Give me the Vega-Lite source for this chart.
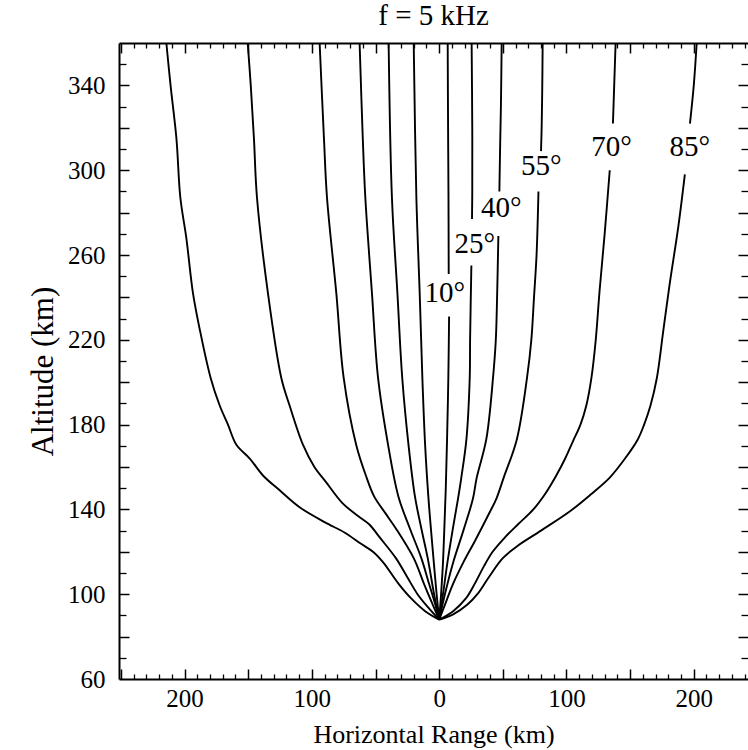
{
  "$schema": "https://vega.github.io/schema/vega-lite/v6.json",
  "width": 629,
  "height": 636,
  "autosize": {"type": "none"},
  "padding": {"left": 119, "top": 43, "right": 0, "bottom": 71},
  "background": "white",
  "title": {"text": "f = 5 kHz", "font": "Liberation Serif", "fontSize": 29, "fontWeight": "normal", "color": "black", "offset": 8, "anchor": "middle", "frame": "group"},
  "config": {
    "font": "Liberation Serif",
    "view": {"stroke": null},
    "axis": {"grid": false, "domainColor": "black", "tickColor": "black", "labelColor": "black", "titleColor": "black", "labelFont": "Liberation Serif", "titleFont": "Liberation Serif", "titleFontWeight": "normal"}
  },
  "datasets": {
    "curves": [
      {"s":"L6","km":-214.3,"alt":360},{"s":"L6","km":-211,"alt":340},{"s":"L6","km":-206.4,"alt":315},{"s":"L6","km":-203.3,"alt":287},{"s":"L6","km":-198.6,"alt":268},{"s":"L6","km":-193.4,"alt":242},{"s":"L6","km":-188.1,"alt":225},{"s":"L6","km":-179.5,"alt":202},{"s":"L6","km":-172.4,"alt":189},{"s":"L6","km":-165.9,"alt":180},{"s":"L6","km":-159.3,"alt":170.5},{"s":"L6","km":-148.8,"alt":164},{"s":"L6","km":-138.4,"alt":156},{"s":"L6","km":-125.3,"alt":149},{"s":"L6","km":-109.6,"alt":141},{"s":"L6","km":-90,"alt":134},{"s":"L6","km":-74,"alt":129},{"s":"L6","km":-62,"alt":124},{"s":"L6","km":-52,"alt":120},{"s":"L6","km":-44,"alt":115},{"s":"L6","km":-32,"alt":105},{"s":"L6","km":-22,"alt":98},{"s":"L6","km":-11,"alt":92},{"s":"L6","km":0,"alt":88},
      {"s":"L5","km":-150.4,"alt":360},{"s":"L5","km":-148,"alt":340},{"s":"L5","km":-145.5,"alt":315},{"s":"L5","km":-143.1,"alt":287},{"s":"L5","km":-134.5,"alt":242},{"s":"L5","km":-124,"alt":202},{"s":"L5","km":-117.5,"alt":189},{"s":"L5","km":-107,"alt":170.5},{"s":"L5","km":-98,"alt":160},{"s":"L5","km":-89,"alt":153},{"s":"L5","km":-76,"alt":143},{"s":"L5","km":-64,"alt":137},{"s":"L5","km":-55,"alt":133},{"s":"L5","km":-47,"alt":127},{"s":"L5","km":-34,"alt":117},{"s":"L5","km":-25,"alt":108},{"s":"L5","km":-17,"alt":100},{"s":"L5","km":-9,"alt":94},{"s":"L5","km":0,"alt":88},
      {"s":"L4","km":-93.9,"alt":360},{"s":"L4","km":-90.5,"alt":315},{"s":"L4","km":-88.1,"alt":287},{"s":"L4","km":-80.8,"alt":242},{"s":"L4","km":-75,"alt":202},{"s":"L4","km":-65,"alt":170},{"s":"L4","km":-57,"alt":155},{"s":"L4","km":-51,"alt":146},{"s":"L4","km":-42,"alt":138},{"s":"L4","km":-34,"alt":131},{"s":"L4","km":-20,"alt":117},{"s":"L4","km":-12,"alt":105},{"s":"L4","km":-5,"alt":95},{"s":"L4","km":0,"alt":88},
      {"s":"L3","km":-62.5,"alt":360},{"s":"L3","km":-60,"alt":315},{"s":"L3","km":-58,"alt":287},{"s":"L3","km":-52.8,"alt":242},{"s":"L3","km":-48,"alt":202},{"s":"L3","km":-40,"alt":170},{"s":"L3","km":-32,"alt":146},{"s":"L3","km":-23,"alt":131},{"s":"L3","km":-14,"alt":117},{"s":"L3","km":-8,"alt":105},{"s":"L3","km":-3,"alt":95},{"s":"L3","km":0,"alt":88},
      {"s":"L2","km":-39.7,"alt":360},{"s":"L2","km":-37.1,"alt":287},{"s":"L2","km":-32.8,"alt":242},{"s":"L2","km":-29,"alt":202},{"s":"L2","km":-24,"alt":170},{"s":"L2","km":-19,"alt":146},{"s":"L2","km":-14,"alt":131},{"s":"L2","km":-9,"alt":117},{"s":"L2","km":-4,"alt":100},{"s":"L2","km":0,"alt":88},
      {"s":"L1","km":-20,"alt":360},{"s":"L1","km":-17.9,"alt":287},{"s":"L1","km":-15.3,"alt":242},{"s":"L1","km":-13.2,"alt":202},{"s":"L1","km":-11,"alt":170},{"s":"L1","km":-8.5,"alt":146},{"s":"L1","km":-6.5,"alt":131},{"s":"L1","km":-4.5,"alt":117},{"s":"L1","km":-2,"alt":100},{"s":"L1","km":0,"alt":88},
      {"s":"R1a","km":6.7,"alt":360},{"s":"R1a","km":7,"alt":320},{"s":"R1a","km":7.3,"alt":290},{"s":"R1a","km":7.5,"alt":251},
      {"s":"R1b","km":7.8,"alt":231},{"s":"R1b","km":7.2,"alt":202},{"s":"R1b","km":6.2,"alt":173},{"s":"R1b","km":5.2,"alt":150},{"s":"R1b","km":4,"alt":130},{"s":"R1b","km":3,"alt":115},{"s":"R1b","km":1.5,"alt":100},{"s":"R1b","km":0,"alt":88},
      {"s":"R2a","km":25.5,"alt":360},{"s":"R2a","km":26,"alt":320},{"s":"R2a","km":26,"alt":290},{"s":"R2a","km":25.8,"alt":277},
      {"s":"R2b","km":25.3,"alt":255},{"s":"R2b","km":24.3,"alt":220},{"s":"R2b","km":24,"alt":202},{"s":"R2b","km":21.4,"alt":173},{"s":"R2b","km":17.4,"alt":155},{"s":"R2b","km":14.8,"alt":145},{"s":"R2b","km":10.5,"alt":130},{"s":"R2b","km":6.5,"alt":115},{"s":"R2b","km":3,"alt":100},{"s":"R2b","km":0,"alt":88},
      {"s":"R3a","km":49.1,"alt":360},{"s":"R3a","km":48.5,"alt":330},{"s":"R3a","km":48,"alt":315},{"s":"R3a","km":47.3,"alt":290},
      {"s":"R3b","km":46.5,"alt":269},{"s":"R3b","km":45.5,"alt":240},{"s":"R3b","km":44.5,"alt":220},{"s":"R3b","km":42.3,"alt":202},{"s":"R3b","km":37,"alt":173},{"s":"R3b","km":29.5,"alt":155},{"s":"R3b","km":26.5,"alt":145},{"s":"R3b","km":19,"alt":130},{"s":"R3b","km":11,"alt":115},{"s":"R3b","km":4.5,"alt":100},{"s":"R3b","km":0,"alt":88},
      {"s":"R4a","km":81.3,"alt":360},{"s":"R4a","km":81,"alt":340},{"s":"R4a","km":80.5,"alt":320},{"s":"R4a","km":80,"alt":309},
      {"s":"R4b","km":78,"alt":290},{"s":"R4b","km":76.5,"alt":260},{"s":"R4b","km":74.5,"alt":240},{"s":"R4b","km":72.4,"alt":220},{"s":"R4b","km":69,"alt":202},{"s":"R4b","km":61,"alt":173},{"s":"R4b","km":50.7,"alt":155},{"s":"R4b","km":44.9,"alt":145},{"s":"R4b","km":40,"alt":139},{"s":"R4b","km":28,"alt":125},{"s":"R4b","km":19,"alt":115},{"s":"R4b","km":11,"alt":105},{"s":"R4b","km":4.5,"alt":95},{"s":"R4b","km":0,"alt":88},
      {"s":"R5a","km":138.6,"alt":360},{"s":"R5a","km":137.5,"alt":340},{"s":"R5a","km":136.5,"alt":322},
      {"s":"R5b","km":134,"alt":300},{"s":"R5b","km":130,"alt":270},{"s":"R5b","km":126,"alt":243},{"s":"R5b","km":123,"alt":220},{"s":"R5b","km":119.6,"alt":202},{"s":"R5b","km":115.6,"alt":189},{"s":"R5b","km":111,"alt":180},{"s":"R5b","km":105,"alt":172},{"s":"R5b","km":99,"alt":164},{"s":"R5b","km":92,"alt":156},{"s":"R5b","km":84,"alt":148},{"s":"R5b","km":74,"alt":140},{"s":"R5b","km":62,"alt":133},{"s":"R5b","km":52,"alt":127},{"s":"R5b","km":42,"alt":120},{"s":"R5b","km":35,"alt":113},{"s":"R5b","km":28,"alt":105},{"s":"R5b","km":21,"alt":98},{"s":"R5b","km":11,"alt":92},{"s":"R5b","km":0,"alt":88},
      {"s":"R6a","km":202.3,"alt":360},{"s":"R6a","km":200,"alt":340},{"s":"R6a","km":197,"alt":322},
      {"s":"R6b","km":193,"alt":298},{"s":"R6b","km":188,"alt":274},{"s":"R6b","km":181,"alt":246},{"s":"R6b","km":176,"alt":224},{"s":"R6b","km":171,"alt":202},{"s":"R6b","km":166,"alt":189},{"s":"R6b","km":161,"alt":180},{"s":"R6b","km":156,"alt":173},{"s":"R6b","km":146,"alt":164},{"s":"R6b","km":134,"alt":155},{"s":"R6b","km":119,"alt":147},{"s":"R6b","km":102.5,"alt":139},{"s":"R6b","km":80,"alt":130},{"s":"R6b","km":62,"alt":123},{"s":"R6b","km":50,"alt":117},{"s":"R6b","km":39,"alt":108},{"s":"R6b","km":30,"alt":100},{"s":"R6b","km":22,"alt":95},{"s":"R6b","km":11,"alt":90.5},{"s":"R6b","km":0,"alt":88}
    ],
    "labels": [
      {"label":"10°","km":4.5,"alt":242},
      {"label":"25°","km":27.9,"alt":265},
      {"label":"40°","km":48.9,"alt":282},
      {"label":"55°","km":80.3,"alt":302},
      {"label":"70°","km":135.5,"alt":311},
      {"label":"85°","km":196.8,"alt":311}
    ]
  },
  "resolve": {"axis": {"x": "independent", "y": "independent"}},
  "layer": [
    {
      "data": {"name": "curves"},
      "mark": {"type": "line", "color": "black", "strokeWidth": 1.9, "interpolate": "catmull-rom"},
      "encoding": {
        "x": {"field": "km", "type": "quantitative", "scale": {"domain": [-251.5, 242.6], "nice": false, "zero": false},
          "axis": {"orient": "bottom", "values": [-200, -100, 0, 100, 200], "ticks": false, "domainWidth": 2, "labelExpr": "'' + abs(datum.value)", "labelFont": "Liberation Serif", "labelFontSize": 25, "labelPadding": 7, "title": "Horizontal Range (km)", "titleFont": "Liberation Serif", "titleFontSize": 26, "titlePadding": 10}},
        "y": {"field": "alt", "type": "quantitative", "scale": {"domain": [60, 360], "nice": false, "zero": false},
          "axis": {"orient": "left", "values": [60, 100, 140, 180, 220, 260, 300, 340], "ticks": false, "domainWidth": 2, "labelFont": "Liberation Serif", "labelFontSize": 25, "labelPadding": 14, "title": "Altitude (km)", "titleFont": "Liberation Serif", "titleFontSize": 31, "titlePadding": 8, "titleY": 328}},
        "detail": {"field": "s", "type": "nominal"},
        "order": {"field": "alt", "type": "quantitative"}
      }
    },
    {
      "data": {"name": "labels"},
      "mark": {"type": "text", "font": "Liberation Serif", "fontSize": 29, "color": "black", "align": "center", "baseline": "middle"},
      "encoding": {
        "x": {"field": "km", "type": "quantitative", "scale": {"domain": [-251.5, 242.6], "nice": false, "zero": false},
          "axis": {"orient": "bottom", "values": [-250, -200, -150, -100, -50, 0, 50, 100, 150, 200], "domain": false, "labels": false, "tickSize": -10, "tickWidth": 1.5, "title": null}},
        "y": {"field": "alt", "type": "quantitative", "scale": {"domain": [60, 360], "nice": false, "zero": false},
          "axis": {"orient": "left", "values": [80, 100, 120, 140, 160, 180, 200, 220, 240, 260, 280, 300, 320, 340], "domain": false, "labels": false, "tickSize": -10, "tickWidth": 1.5, "title": null}},
        "text": {"field": "label", "type": "nominal"}
      }
    },
    {
      "data": {"name": "labels"},
      "mark": {"type": "point", "opacity": 0},
      "encoding": {
        "x": {"field": "km", "type": "quantitative", "scale": {"domain": [-251.5, 242.6], "nice": false, "zero": false},
          "axis": {"orient": "bottom", "values": [-240, -230, -220, -210, -190, -180, -170, -160, -140, -130, -120, -110, -90, -80, -70, -60, -40, -30, -20, -10, 10, 20, 30, 40, 60, 70, 80, 90, 110, 120, 130, 140, 160, 170, 180, 190, 210, 220, 230, 240], "domain": false, "labels": false, "tickSize": -5, "tickWidth": 1.3, "title": null}},
        "y": {"field": "alt", "type": "quantitative", "scale": {"domain": [60, 360], "nice": false, "zero": false},
          "axis": {"orient": "left", "values": [70, 90, 110, 130, 150, 170, 190, 210, 230, 250, 270, 290, 310, 330, 350], "domain": false, "labels": false, "tickSize": -7, "tickWidth": 1.3, "title": null}}
      }
    },
    {
      "data": {"name": "labels"},
      "mark": {"type": "point", "opacity": 0},
      "encoding": {
        "x": {"field": "km", "type": "quantitative", "scale": {"domain": [-251.5, 242.6], "nice": false, "zero": false},
          "axis": {"orient": "top", "values": [-250, -200, -150, -100, -50, 0, 50, 100, 150, 200], "domain": true, "domainWidth": 2, "labels": false, "tickSize": -10, "tickWidth": 1.5, "title": null}},
        "y": {"field": "alt", "type": "quantitative", "scale": {"domain": [60, 360], "nice": false, "zero": false},
          "axis": {"orient": "right", "values": [80, 100, 120, 140, 160, 180, 200, 220, 240, 260, 280, 300, 320, 340], "domain": false, "labels": false, "tickSize": -10, "tickWidth": 1.5, "title": null}}
      }
    },
    {
      "data": {"name": "labels"},
      "mark": {"type": "point", "opacity": 0},
      "encoding": {
        "x": {"field": "km", "type": "quantitative", "scale": {"domain": [-251.5, 242.6], "nice": false, "zero": false},
          "axis": {"orient": "top", "values": [-240, -230, -220, -210, -190, -180, -170, -160, -140, -130, -120, -110, -90, -80, -70, -60, -40, -30, -20, -10, 10, 20, 30, 40, 60, 70, 80, 90, 110, 120, 130, 140, 160, 170, 180, 190, 210, 220, 230, 240], "domain": false, "labels": false, "tickSize": -5, "tickWidth": 1.3, "title": null}},
        "y": {"field": "alt", "type": "quantitative", "scale": {"domain": [60, 360], "nice": false, "zero": false},
          "axis": {"orient": "right", "values": [70, 90, 110, 130, 150, 170, 190, 210, 230, 250, 270, 290, 310, 330, 350], "domain": false, "labels": false, "tickSize": -7, "tickWidth": 1.3, "title": null}}
      }
    }
  ]
}
